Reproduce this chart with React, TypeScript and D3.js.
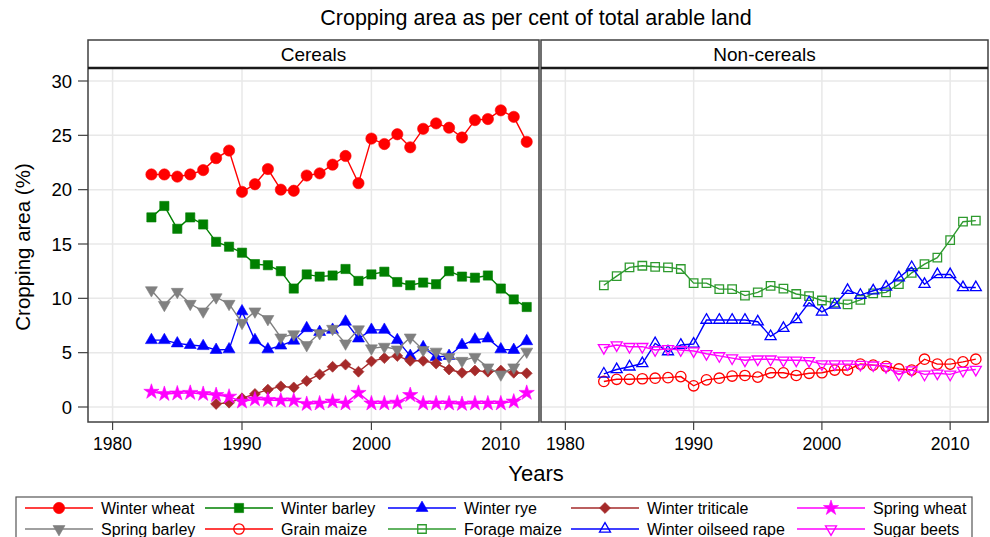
import React from "react";
import * as d3 from "d3";

// years 1983-2012 (triticale only from 1988)
const years = d3.range(1983, 2013);
const triticaleYears = d3.range(1988, 2013);

const winterWheat = [21.4, 21.4, 21.2, 21.4, 21.8, 22.9, 23.6, 19.8, 20.5, 21.9, 20.0, 19.9, 21.3, 21.5, 22.3, 23.1, 20.6, 24.7, 24.2, 25.1, 23.9, 25.6, 26.1, 25.7, 24.8, 26.4, 26.5, 27.3, 26.7, 24.4];
const winterBarley = [17.45, 18.5, 16.4, 17.45, 16.8, 15.2, 14.75, 14.2, 13.15, 13.05, 12.5, 10.9, 12.2, 12.0, 12.1, 12.7, 11.6, 12.2, 12.45, 11.5, 11.2, 11.45, 11.3, 12.5, 12.0, 11.9, 12.1, 10.9, 9.9, 9.2];
const winterRye = [6.15, 6.15, 5.85, 5.7, 5.6, 5.25, 5.3, 8.8, 6.15, 5.3, 5.65, 6.1, 7.25, 6.9, 7.1, 7.85, 6.3, 7.1, 7.1, 6.15, 4.7, 5.5, 4.6, 4.7, 5.7, 6.2, 6.3, 5.3, 5.25, 6.05];
const winterTriticale = [0.28, 0.4, 0.8, 1.2, 1.6, 1.9, 1.8, 2.4, 3.0, 3.7, 3.9, 3.25, 4.2, 4.5, 4.7, 4.25, 4.25, 4.0, 3.45, 3.15, 3.35, 3.25, 3.35, 3.15, 3.1];
const springWheat = [1.4, 1.2, 1.25, 1.3, 1.2, 1.1, 0.95, 0.5, 0.7, 0.65, 0.6, 0.6, 0.28, 0.33, 0.5, 0.33, 1.3, 0.33, 0.33, 0.4, 1.1, 0.33, 0.33, 0.33, 0.28, 0.33, 0.33, 0.33, 0.5, 1.3];
const springBarley = [10.75, 9.4, 10.6, 9.5, 8.8, 10.1, 9.5, 7.75, 8.8, 8.1, 6.4, 6.7, 5.7, 6.8, 7.2, 5.85, 7.15, 5.4, 5.55, 5.3, 6.4, 5.25, 5.1, 4.6, 4.25, 4.6, 3.65, 3.0, 3.65, 5.1];
const grainMaize = [2.35, 2.55, 2.55, 2.6, 2.65, 2.7, 2.8, 1.95, 2.5, 2.65, 2.85, 2.9, 2.75, 3.15, 3.15, 2.9, 3.1, 3.15, 3.4, 3.4, 3.95, 3.85, 3.75, 3.5, 3.4, 4.4, 3.95, 3.95, 4.15, 4.4];
const forageMaize = [11.2, 12.05, 12.85, 13.0, 12.9, 12.85, 12.7, 11.4, 11.4, 10.85, 10.85, 10.25, 10.55, 11.15, 10.9, 10.4, 10.2, 9.8, 9.6, 9.45, 9.85, 10.45, 10.55, 11.3, 12.35, 13.15, 13.75, 15.35, 17.05, 17.15];
const oilseedRape = [3.05, 3.45, 3.7, 4.0, 5.85, 5.1, 5.7, 5.8, 8.0, 8.0, 8.0, 8.0, 7.85, 6.5, 7.25, 8.05, 9.6, 8.75, 9.4, 10.75, 10.3, 10.7, 11.05, 11.9, 12.85, 11.3, 12.2, 12.2, 11.0, 11.0];
const sugarBeets = [5.45, 5.7, 5.55, 5.55, 5.25, 5.35, 5.25, 5.15, 4.9, 4.7, 4.5, 4.3, 4.4, 4.4, 4.3, 4.3, 4.25, 3.95, 3.95, 3.95, 3.9, 3.85, 3.7, 3.0, 3.4, 3.0, 3.1, 3.0, 3.35, 3.45];

const yTicks = [0, 5, 10, 15, 20, 25, 30];
const xTicks = [1980, 1990, 2000, 2010];
const panelNames = ["Cereals", "Non-cereals"];

type Shape = "circle" | "square" | "triangle" | "diamond" | "star" | "tridown";
interface Series {
  name: string;
  yrs: number[];
  values: number[];
  color: string;
  shape: Shape;
  filled: boolean;
  panel: number;
}

const series: Series[] = [
  { name: "Winter wheat", yrs: years, values: winterWheat, color: "#ff0000", shape: "circle", filled: true, panel: 0 },
  { name: "Winter barley", yrs: years, values: winterBarley, color: "#008000", shape: "square", filled: true, panel: 0 },
  { name: "Winter rye", yrs: years, values: winterRye, color: "#0000ff", shape: "triangle", filled: true, panel: 0 },
  { name: "Winter triticale", yrs: triticaleYears, values: winterTriticale, color: "#a52a2a", shape: "diamond", filled: true, panel: 0 },
  { name: "Spring wheat", yrs: years, values: springWheat, color: "#ff00ff", shape: "star", filled: true, panel: 0 },
  { name: "Spring barley", yrs: years, values: springBarley, color: "#808080", shape: "tridown", filled: true, panel: 0 },
  { name: "Grain maize", yrs: years, values: grainMaize, color: "#ff0000", shape: "circle", filled: false, panel: 1 },
  { name: "Forage maize", yrs: years, values: forageMaize, color: "#2e9a2e", shape: "square", filled: false, panel: 1 },
  { name: "Winter oilseed rape", yrs: years, values: oilseedRape, color: "#0000ff", shape: "triangle", filled: false, panel: 1 },
  { name: "Sugar beets", yrs: years, values: sugarBeets, color: "#ff00ff", shape: "tridown", filled: false, panel: 1 },
];

// legend layout (row 1 / row 2 order)
const legendOrder = [
  ["Winter wheat", "Winter barley", "Winter rye", "Winter triticale", "Spring wheat"],
  ["Spring barley", "Grain maize", "Forage maize", "Winter oilseed rape", "Sugar beets"],
];
const legendCols = [25, 205, 388, 571, 797];

const font = "'Liberation Sans', Arial, sans-serif";

function symbolPath(shape: Shape, filled: boolean): { d: string; rot: number } {
  const k = filled ? 1 : 0.85;
  switch (shape) {
    case "circle":
      return { d: d3.symbol(d3.symbolCircle, 100 * k)()!, rot: 0 };
    case "square":
      return { d: d3.symbol(d3.symbolSquare, 85 * k)()!, rot: 0 };
    case "triangle":
      return { d: d3.symbol(d3.symbolTriangle, 62 * k)()!, rot: 0 };
    case "tridown":
      return { d: d3.symbol(d3.symbolTriangle, 62 * k)()!, rot: 180 };
    case "diamond":
      return { d: d3.symbol(d3.symbolSquare, 60)()!, rot: 45 };
    case "star":
      return { d: d3.symbol(d3.symbolStar, 72)()!, rot: 0 };
  }
}

function Marker({ s, x, y }: { s: Series; x: number; y: number }) {
  const { d, rot } = symbolPath(s.shape, s.filled);
  return (
    <path
      d={d}
      transform={`translate(${x},${y}) rotate(${rot})`}
      fill={s.filled ? s.color : "none"}
      stroke={s.color}
      strokeWidth={s.filled ? 0.6 : 1.3}
    />
  );
}

export default function App() {
  const panels = [
    { x0: 88, x1: 539 },
    { x0: 541, x1: 988 },
  ];
  const top = 40;
  const stripBottom = 68;
  const bottom = 422;

  const y = d3.scaleLinear().domain([0, 30]).range([407, 81]);

  return (
    <div style={{ position: "absolute", left: 0, top: 0 }}>
      <svg width={990} height={537} style={{ display: "block", fontFamily: font }}>
        <rect width={990} height={537} fill="#ffffff" />
        <text x={536} y={25} textAnchor="middle" fontSize={21.5} fill="#000">
          Cropping area as per cent of total arable land
        </text>

        {panels.map((p, pi) => {
          const x = d3.scaleLinear().domain([1978.1, 2012.95]).range([p.x0, p.x1]);
          return (
            <g key={pi}>
              {/* grid */}
              {yTicks.map((t) => (
                <line key={"gy" + t} x1={p.x0} x2={p.x1} y1={y(t)} y2={y(t)} stroke="#e8e8e8" strokeWidth={1.5} />
              ))}
              {xTicks.map((t) => (
                <line key={"gx" + t} x1={x(t)} x2={x(t)} y1={stripBottom} y2={bottom} stroke="#e8e8e8" strokeWidth={1.5} />
              ))}
              {/* series */}
              {series
                .filter((s) => s.panel === pi)
                .map((s) => {
                  const pts: [number, number][] = s.yrs.map((yr, i) => [x(yr), y(s.values[i])]);
                  const path = d3.line()(pts)!;
                  return (
                    <g key={s.name}>
                      <path d={path} fill="none" stroke={s.color} strokeWidth={1.4} />
                      {pts.map((pt, i) => (
                        <Marker key={i} s={s} x={pt[0]} y={pt[1]} />
                      ))}
                    </g>
                  );
                })}
              {/* frame + strip */}
              <rect x={p.x0} y={top} width={p.x1 - p.x0} height={bottom - top} fill="none" stroke="#404040" strokeWidth={1.5} />
              <line x1={p.x0} x2={p.x1} y1={stripBottom} y2={stripBottom} stroke="#1a1a1a" strokeWidth={2.5} />
              <text x={(p.x0 + p.x1) / 2} y={61} textAnchor="middle" fontSize={19} fill="#000">
                {panelNames[pi]}
              </text>
              {/* x axis */}
              {xTicks.map((t) => (
                <g key={"xt" + t}>
                  <line x1={x(t)} x2={x(t)} y1={bottom} y2={bottom + 8} stroke="#404040" strokeWidth={1.2} />
                  <text x={x(t)} y={450} textAnchor="middle" fontSize={17.5} fill="#000">
                    {t}
                  </text>
                </g>
              ))}
            </g>
          );
        })}

        {/* y axis */}
        {yTicks.map((t) => (
          <g key={"yt" + t}>
            <line x1={78} x2={88} y1={y(t)} y2={y(t)} stroke="#404040" strokeWidth={1.2} />
            <text x={72} y={y(t) + 6.5} textAnchor="end" fontSize={18.5} fill="#000">
              {t}
            </text>
          </g>
        ))}
        <text transform="translate(30,247) rotate(-90)" textAnchor="middle" fontSize={20.5} fill="#000">
          Cropping area (%)
        </text>
        <text x={536} y={481} textAnchor="middle" fontSize={22} fill="#000">
          Years
        </text>

        {/* legend */}
        <rect x={16} y={497} width={956} height={50} fill="#fff" stroke="#555" strokeWidth={1.2} />
        {legendOrder.map((row, ri) =>
          row.map((name, ci) => {
            const s = series.find((q) => q.name === name)!;
            const lx = legendCols[ci];
            const ly = ri === 0 ? 508 : 529;
            return (
              <g key={name}>
                <line x1={lx} x2={lx + 68} y1={ly} y2={ly} stroke={s.color} strokeWidth={1.4} />
                <Marker s={s} x={lx + 34} y={ly} />
                <text x={lx + 76} y={ly + 5.5} fontSize={16} fill="#000">
                  {name}
                </text>
              </g>
            );
          })
        )}
      </svg>
    </div>
  );
}
